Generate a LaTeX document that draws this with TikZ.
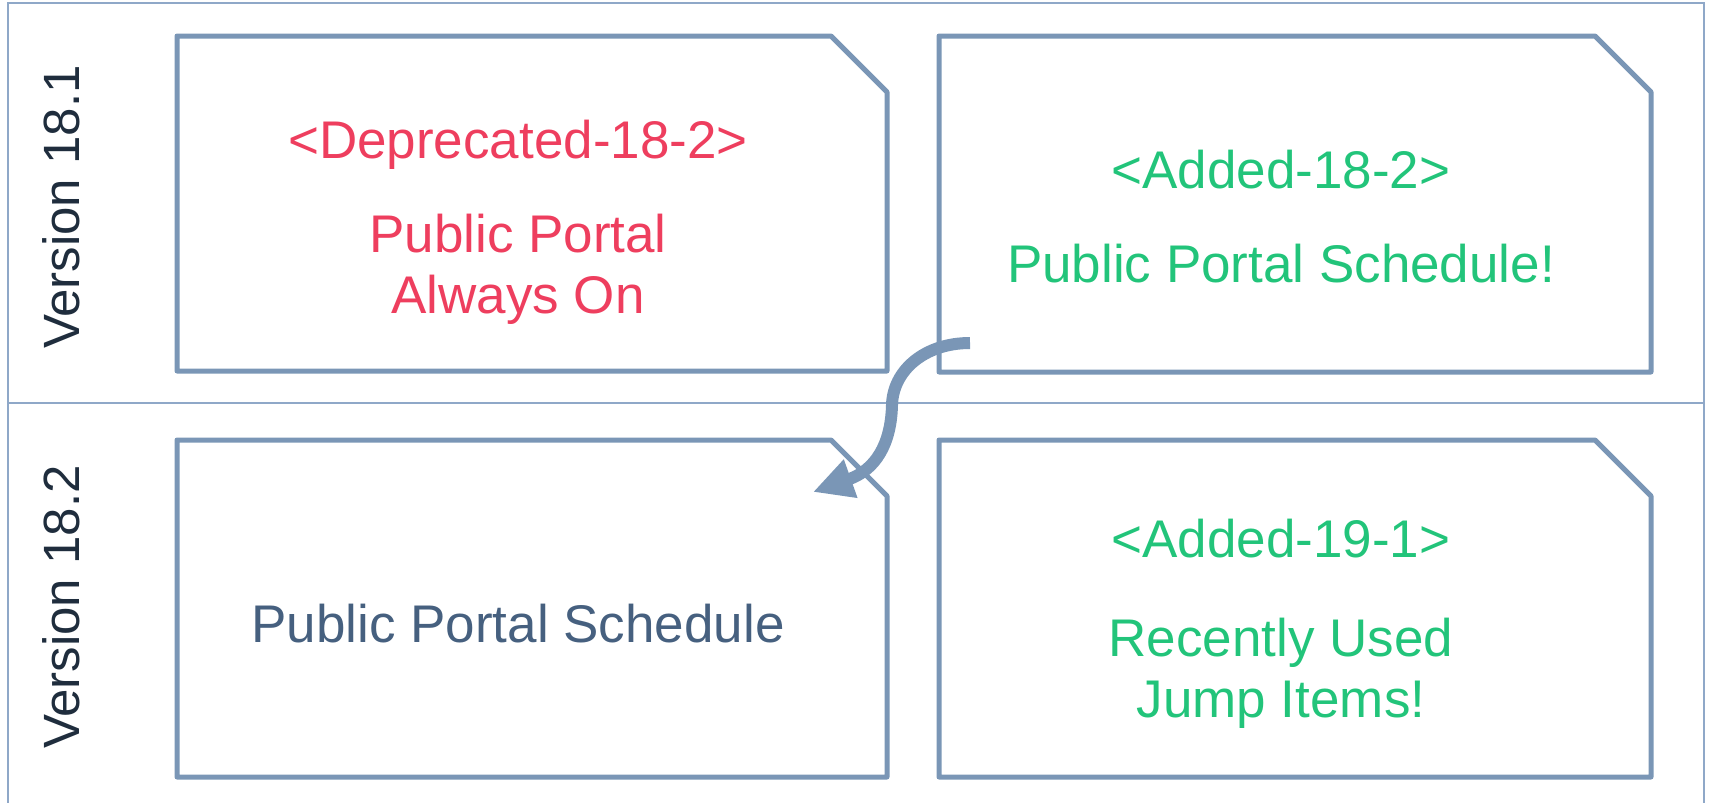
\documentclass[tikz,border=0pt]{standalone}
\usepackage{fontspec}
\setmainfont{Liberation Sans}
\usetikzlibrary{arrows.meta}

\definecolor{boxline}{HTML}{7A96B6}
\definecolor{frameline}{HTML}{8FA8C8}
\definecolor{oldred}{HTML}{EE3E5E}
\definecolor{newgreen}{HTML}{22C47A}
\definecolor{keptblue}{HTML}{46607F}
\definecolor{labeldark}{HTML}{1F2D3D}

\tikzset{
    cardline/.style={draw=boxline, line width=5pt, line join=round},
    cardtext/.style={anchor=base, inner sep=0pt, font=\fontsize{53}{64}\selectfont},
    versiontext/.style={rotate=90, inner sep=0pt, text=labeldark, font=\fontsize{51}{61}\selectfont}
}

\begin{document}
\begin{tikzpicture}[x=1pt, y=-1pt]
    \useasboundingbox (0,0) rectangle (1711,803);

    % Cadre et séparation des versions
    \draw[frameline, line width=2.5pt] (8,803) -- (8,3) -- (1704,3) -- (1704,803);
    \draw[frameline, line width=2.5pt] (8,403) -- (1704,403);

    % Étiquettes des versions
    \node[versiontext] (v181) at (61,207) {Version 18.1};
    \node[versiontext] (v182) at (61,607) {Version 18.2};

    % Cartes à coin coupé : x1/y1/x2/y2
    \foreach \xa/\ya/\xb/\yb in {177/36/887/371, 939/36/1651/372, 177/440/887/777, 939/440/1651/777} {
        \draw[cardline] (\xa,\ya) -- (\xb-56,\ya) -- (\xb,\ya+56) -- (\xb,\yb) -- (\xa,\yb) -- cycle;
    }

    % Textes des cartes
    \node[cardtext, text=oldred] (dep) at (518,158) {<Deprecated-18-2>};
    \node[cardtext, text=oldred] (dep1) at (518,252) {Public Portal};
    \node[cardtext, text=oldred] (dep2) at (518,313) {Always On};

    \node[cardtext, text=newgreen] (add) at (1281,188) {<Added-18-2>};
    \node[cardtext, text=newgreen] (add1) at (1281,282) {Public Portal Schedule!};

    \node[cardtext, text=keptblue] (kept) at (518,642) {Public Portal Schedule};

    \node[cardtext, text=newgreen] (nxt) at (1281,557) {<Added-19-1>};
    \node[cardtext, text=newgreen] (nxt1) at (1281,656) {Recently Used};
    \node[cardtext, text=newgreen] (nxt2) at (1281,717) {Jump Items!};

    % Flèche de déplacement
    \coordinate (from) at (970,343);
    \coordinate (to) at (813,492);
    \draw[boxline, line width=12pt, -{Triangle[length=40pt, width=38pt]}]
        (from) .. controls (925,343) and (893,370) .. (892,405)
        .. controls (891,445) and (875,470) .. (to);

\end{tikzpicture}
\end{document}
